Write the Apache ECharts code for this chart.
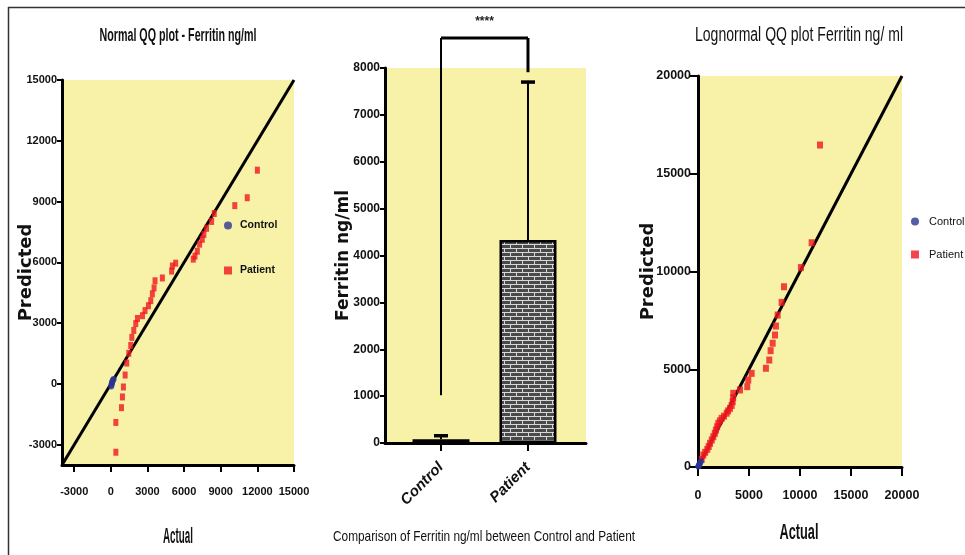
<!DOCTYPE html>
<html>
<head>
<meta charset="utf-8">
<script src="https://cdn.jsdelivr.net/npm/echarts@6/dist/echarts.min.js"></script>
<style>
  html, body { margin: 0; padding: 0; background: #fff; }
  #chart { width: 965px; height: 555px; }
</style>
</head>
<body>
<div id="chart"></div>
<script>
// ---- data ----
// normal QQ plot (actual, predicted)
const normalControl = [[30, -120], [60, -40], [80, 20], [100, 80], [140, 140], [180, 200], [230, 250]];
const normalPatient = [
  [410, -3370], [410, -1900], [870, -1170], [950, -640], [1030, -150], [1170, 440],
  [1300, 1030], [1470, 1510], [1630, 1900], [1720, 2300], [1880, 2640], [2040, 2980],
  [2180, 3230], [2590, 3370], [2800, 3620], [3080, 3860], [3270, 4110], [3400, 4450],
  [3540, 4740], [3620, 5090], [4220, 5230], [4980, 5570], [5040, 5820], [5310, 5960],
  [6750, 6160], [6890, 6310], [7080, 6550], [7270, 6900], [7490, 7140], [7620, 7380],
  [7840, 7680], [8250, 8020], [8470, 8410], [10150, 8800], [11170, 9190], [12000, 10550]
];
const normalRefLine = [[-4000, -4000], [15000, 15000]];
const normalTicks = [-3000, 0, 3000, 6000, 9000, 12000, 15000];

// bar chart: mean and upper error
const barCategories = ['Control', 'Patient'];
const barMeans = [80, 4330];
const barUpper = [155, 7700];
const bracketEnds = [1020, 7910];
const bracketTop = 8640;
const bracketLabel = '****';

// lognormal QQ plot (actual, predicted)
const lognormalControl = [[30, 20], [60, 50], [90, 80], [120, 120], [160, 170], [220, 230], [280, 300]];
const lognormalPatient = [
  [360, 390], [520, 610], [700, 750], [910, 900], [1050, 1050], [1180, 1210], [1350, 1380],
  [1500, 1550], [1650, 1720], [1760, 1890], [1880, 2060], [1990, 2230], [2150, 2360],
  [2320, 2490], [2550, 2600], [2810, 2750], [2950, 2870], [3140, 3000], [3300, 3150],
  [3400, 3340], [3450, 3550], [3460, 3770], [4120, 3940], [4830, 4110], [4930, 4450],
  [5260, 4790], [6660, 5050], [6990, 5470], [7120, 5950], [7320, 6330], [7550, 6750],
  [7640, 7210], [7810, 7770], [8200, 8420], [8430, 9220], [10090, 10200], [11140, 11470],
  [11960, 16470]
];
const lognormalRefLine = [[0, 0], [20000, 20000]];

// ---- styles ----
const YELLOW = '#f7f2a8';
const RED = '#f0161f';
const BLUE = '#2a3592';
const SANS = '"Liberation Sans", Arial, sans-serif';
const WIDE = '"DejaVu Sans", Verdana, sans-serif';

// brick pattern for the patient bar
function brickPattern() {
  const c = document.createElement('canvas');
  c.width = 12;
  c.height = 8;
  const ctx = c.getContext('2d');
  ctx.fillStyle = '#4a4a4a';
  ctx.fillRect(0, 0, 12, 8);
  ctx.fillStyle = '#d8d8d8';
  ctx.fillRect(0, 0, 12, 1);
  ctx.fillRect(0, 4, 12, 1);
  ctx.fillRect(0, 0, 1, 4);
  ctx.fillRect(6, 4, 1, 4);
  return c;
}

// the source uses a very condensed font, so squeeze text to the width seen
const measureCtx = document.createElement('canvas').getContext('2d');
function squeezedText(text, cx, cy, font, width) {
  measureCtx.font = font;
  const w = measureCtx.measureText(text).width;
  return {
    type: 'text', x: cx, y: cy, scaleX: width / w, silent: true,
    style: { text: text, font: font, fill: '#111', align: 'center', verticalAlign: 'middle' }
  };
}

function axisCommon(tickLen, labelSize, margin) {
  return {
    axisLine: { show: true, onZero: false, lineStyle: { color: '#000', width: 3 } },
    axisTick: { show: true, length: tickLen, lineStyle: { color: '#000', width: 2 } },
    axisLabel: {
      color: '#111', fontFamily: SANS, fontWeight: 'bold', fontSize: labelSize, margin: margin,
      showMinLabel: true, showMaxLabel: true, hideOverlap: false,
      formatter: v => String(v)
    },
    splitLine: { show: false },
    nameMoveOverlap: false
  };
}

const chart = echarts.init(document.getElementById('chart'));

const option = {
  backgroundColor: '#fff',
  animation: false,
  legend: [
    {
      orient: 'vertical', left: 224, top: 220, padding: 0, itemGap: 34, itemWidth: 8, itemHeight: 8,
      data: [{ name: 'Control', icon: 'circle' }, { name: 'Patient', icon: 'rect' }],
      textStyle: { fontFamily: SANS, fontWeight: 'bold', fontSize: 10.5, color: '#111', padding: [0, 0, 0, 3] }
    },
    {
      orient: 'vertical', left: 911, top: 216, padding: 0, itemGap: 22, itemWidth: 8, itemHeight: 8,
      data: [{ name: 'Control', icon: 'circle' }, { name: 'Patient', icon: 'rect' }],
      textStyle: { fontFamily: SANS, fontSize: 11, color: '#111', padding: [0, 0, 0, 5] }
    }
  ],
  grid: [
    { left: 62, top: 80, width: 232, height: 385, show: true, backgroundColor: YELLOW, borderWidth: 0, outerBoundsMode: 'none', containLabel: false },
    { left: 385, top: 68, width: 201, height: 375, show: true, backgroundColor: YELLOW, borderWidth: 0, outerBoundsMode: 'none', containLabel: false },
    { left: 698, top: 76, width: 204, height: 391, show: true, backgroundColor: YELLOW, borderWidth: 0, outerBoundsMode: 'none', containLabel: false }
  ],
  xAxis: [
    Object.assign(axisCommon(7, 11, 21), { gridIndex: 0, type: 'value', min: -4000, max: 15000 }),
    Object.assign(axisCommon(8, 15, 22), { gridIndex: 1, type: 'value', min: -0.644, max: 1.667 }),
    Object.assign(axisCommon(9, 12.5, 22), { gridIndex: 2, type: 'value', min: 0, max: 20000, interval: 5000 })
  ],
  yAxis: [
    Object.assign(axisCommon(5, 11, 5), {
      gridIndex: 0, type: 'value', min: -4000, max: 15000,
      name: 'Predicted', nameLocation: 'middle', nameGap: 27,
      nameTextStyle: { fontFamily: WIDE, fontWeight: 'bold', fontSize: 18, color: '#111' }
    }),
    Object.assign(axisCommon(5, 12, 5), {
      gridIndex: 1, type: 'value', min: 0, max: 8000, interval: 1000,
      name: 'Ferritin ng/ml', nameLocation: 'middle', nameGap: 33,
      nameTextStyle: { fontFamily: WIDE, fontWeight: 'bold', fontSize: 17, color: '#111' }
    }),
    Object.assign(axisCommon(8, 12.5, 7), {
      gridIndex: 2, type: 'value', min: 0, max: 20000, interval: 5000,
      name: 'Predicted', nameLocation: 'middle', nameGap: 41,
      nameTextStyle: { fontFamily: WIDE, fontWeight: 'bold', fontSize: 18, color: '#111' }
    })
  ],
  graphic: [
    { type: 'line', shape: { x1: 8, y1: 7.5, x2: 965, y2: 7.5 }, style: { stroke: '#333', lineWidth: 1.5 } },
    { type: 'line', shape: { x1: 8.5, y1: 7, x2: 8.5, y2: 555 }, style: { stroke: '#333', lineWidth: 1.5 } },
    squeezedText('Normal QQ plot - Ferritin ng/ml', 178, 36, 'bold 18px ' + SANS, 157),
    squeezedText('Lognormal QQ plot Ferritin ng/ ml', 799, 35, '20px ' + SANS, 208),
    squeezedText('Actual', 178, 537, 'bold 22px ' + SANS, 30),
    squeezedText('Actual', 799, 533, 'bold 22px ' + SANS, 39),
    squeezedText('Comparison of Ferritin ng/ml between Control and Patient', 484, 537, '15px ' + SANS, 302)
  ],
  series: [
    {
      type: 'line', xAxisIndex: 0, yAxisIndex: 0, data: normalRefLine, symbol: 'none',
      lineStyle: { color: '#000', width: 3 }, silent: true, z: 2
    },
    {
      name: 'Control', type: 'scatter', xAxisIndex: 0, yAxisIndex: 0, data: normalControl,
      symbol: 'circle', symbolSize: 6, itemStyle: { color: BLUE }, z: 4
    },
    {
      name: 'Patient', type: 'scatter', xAxisIndex: 0, yAxisIndex: 0, data: normalPatient,
      symbol: 'rect', symbolSize: [5, 7], itemStyle: { color: RED }, z: 3
    },
    {
      type: 'bar', xAxisIndex: 1, yAxisIndex: 1, barWidth: 57,
      data: barMeans.map((v, i) => ({
        value: [i, v],
        itemStyle: i === 0
          ? { color: '#000', borderColor: '#000', borderWidth: 2 }
          : { color: { image: brickPattern(), repeat: 'repeat' }, borderColor: '#000', borderWidth: 2.5 }
      })),
      z: 2
    },
    {
      type: 'custom', xAxisIndex: 1, yAxisIndex: 1, z: 3,
      data: barMeans.map((v, i) => [i, v, barUpper[i]]),
      renderItem: function (params, api) {
        const p0 = api.coord([api.value(0), api.value(1)]);
        const p1 = api.coord([api.value(0), api.value(2)]);
        return {
          type: 'group',
          children: [
            { type: 'line', shape: { x1: p0[0], y1: p0[1], x2: p1[0], y2: p1[1] }, style: { stroke: '#000', lineWidth: 2 } },
            { type: 'line', shape: { x1: p1[0] - 7, y1: p1[1], x2: p1[0] + 7, y2: p1[1] }, style: { stroke: '#000', lineWidth: 3.5 } }
          ]
        };
      }
    },
    {
      type: 'custom', xAxisIndex: 1, yAxisIndex: 1, z: 3, clip: false,
      data: [[0, bracketEnds[0], 1, bracketEnds[1], bracketTop]],
      renderItem: function (params, api) {
        const a = api.coord([api.value(0), api.value(1)]);
        const at = api.coord([api.value(0), api.value(4)]);
        const bt = api.coord([api.value(2), api.value(4)]);
        const b = api.coord([api.value(2), api.value(3)]);
        return {
          type: 'group',
          children: [
            { type: 'line', shape: { x1: a[0], y1: a[1], x2: at[0], y2: at[1] }, style: { stroke: '#000', lineWidth: 2 } },
            { type: 'line', shape: { x1: at[0], y1: at[1], x2: bt[0], y2: bt[1] }, style: { stroke: '#000', lineWidth: 3 } },
            { type: 'line', shape: { x1: bt[0], y1: bt[1], x2: b[0], y2: b[1] }, style: { stroke: '#000', lineWidth: 3 } },
            {
              type: 'text', x: (at[0] + bt[0]) / 2, y: at[1] - 10,
              style: { text: bracketLabel, fill: '#222', font: 'bold 12px ' + SANS, align: 'center', verticalAlign: 'bottom' }
            }
          ]
        };
      }
    },
    {
      type: 'line', xAxisIndex: 2, yAxisIndex: 2, data: lognormalRefLine, symbol: 'none',
      lineStyle: { color: '#000', width: 3 }, silent: true, z: 2
    },
    {
      name: 'Control', type: 'scatter', xAxisIndex: 2, yAxisIndex: 2, data: lognormalControl,
      symbol: 'circle', symbolSize: 6, itemStyle: { color: BLUE }, z: 4
    },
    {
      name: 'Patient', type: 'scatter', xAxisIndex: 2, yAxisIndex: 2, data: lognormalPatient,
      symbol: 'rect', symbolSize: [6, 7], itemStyle: { color: RED }, z: 3
    }
  ]
};

// custom tick positions
option.xAxis[0].axisTick.customValues = normalTicks;
option.xAxis[0].axisLabel.customValues = normalTicks;
option.yAxis[0].axisTick.customValues = normalTicks;
option.yAxis[0].axisLabel.customValues = normalTicks;
option.xAxis[1].axisTick.customValues = [0, 1];
option.xAxis[1].axisLabel.customValues = [0, 1];
option.xAxis[1].axisLabel.formatter = v => barCategories[Math.round(v)] || '';
option.xAxis[1].axisLabel.rotate = 45;
option.xAxis[1].axisLabel.fontStyle = 'italic';

chart.setOption(option);
</script>
</body>
</html>
